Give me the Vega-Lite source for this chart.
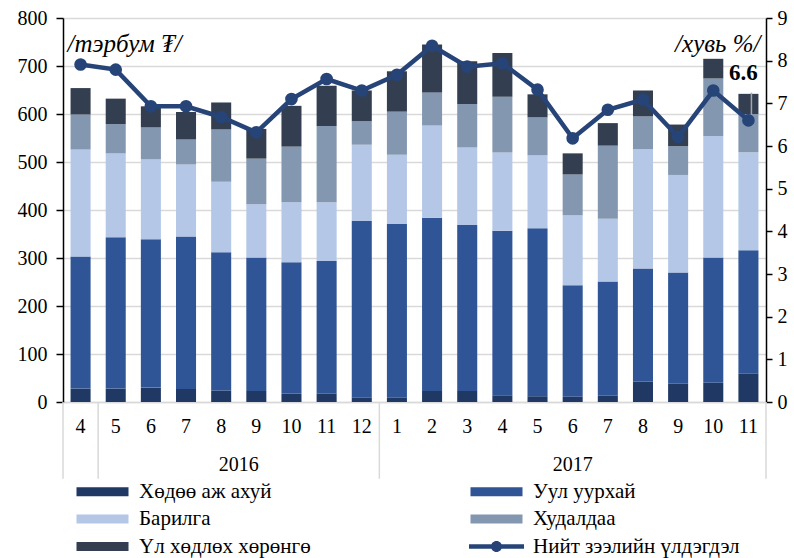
{
  "$schema": "https://vega.github.io/schema/vega-lite/v6.json",
  "width": 703,
  "height": 384,
  "autosize": {"type": "none"},
  "padding": {"left": 63, "top": 18, "right": 28, "bottom": 156},
  "background": "white",
  "config": {
    "font": "Liberation Serif",
    "view": {"stroke": null},
    "axis": {"labelColor": "#000000", "titleColor": "#000000", "labelFontSize": 20}
  },
  "datasets": {
    "d": [
      {"m": "2016-4", "Хөдөө аж ахуй": 28, "Уул уурхай": 275, "Барилга": 223, "Худалдаа": 73, "Үл хөдлөх хөрөнгө": 55, "loan": 7.91},
      {"m": "2016-5", "Хөдөө аж ахуй": 28, "Уул уурхай": 315, "Барилга": 175, "Худалдаа": 61, "Үл хөдлөх хөрөнгө": 53, "loan": 7.79},
      {"m": "2016-6", "Хөдөө аж ахуй": 30, "Уул уурхай": 309, "Барилга": 167, "Худалдаа": 66, "Үл хөдлөх хөрөнгө": 44, "loan": 6.93},
      {"m": "2016-7", "Хөдөө аж ахуй": 27, "Уул уурхай": 318, "Барилга": 150, "Худалдаа": 52, "Үл хөдлөх хөрөнгө": 57, "loan": 6.93},
      {"m": "2016-8", "Хөдөө аж ахуй": 24, "Уул уурхай": 288, "Барилга": 147, "Худалдаа": 109, "Үл хөдлөх хөрөнгө": 56, "loan": 6.68},
      {"m": "2016-9", "Хөдөө аж ахуй": 23, "Уул уурхай": 278, "Барилга": 111, "Худалдаа": 95, "Үл хөдлөх хөрөнгө": 62, "loan": 6.32},
      {"m": "2016-10", "Хөдөө аж ахуй": 17, "Уул уурхай": 274, "Барилга": 125, "Худалдаа": 116, "Үл хөдлөх хөрөнгө": 85, "loan": 7.10},
      {"m": "2016-11", "Хөдөө аж ахуй": 17, "Уул уурхай": 277, "Барилга": 122, "Худалдаа": 159, "Үл хөдлөх хөрөнгө": 84, "loan": 7.57},
      {"m": "2016-12", "Хөдөө аж ахуй": 9, "Уул уурхай": 368, "Барилга": 159, "Худалдаа": 49, "Үл хөдлөх хөрөнгө": 64, "loan": 7.30},
      {"m": "2017-1", "Хөдөө аж ахуй": 9, "Уул уурхай": 362, "Барилга": 144, "Худалдаа": 90, "Үл хөдлөх хөрөнгө": 84, "loan": 7.67},
      {"m": "2017-2", "Хөдөө аж ахуй": 23, "Уул уурхай": 361, "Барилга": 192, "Худалдаа": 69, "Үл хөдлөх хөрөнгө": 100, "loan": 8.35},
      {"m": "2017-3", "Хөдөө аж ахуй": 23, "Уул уурхай": 346, "Барилга": 161, "Худалдаа": 91, "Үл хөдлөх хөрөнгө": 89, "loan": 7.86},
      {"m": "2017-4", "Хөдөө аж ахуй": 14, "Уул уурхай": 343, "Барилга": 163, "Худалдаа": 116, "Үл хөдлөх хөрөнгө": 91, "loan": 7.94},
      {"m": "2017-5", "Хөдөө аж ахуй": 12, "Уул уурхай": 350, "Барилга": 152, "Худалдаа": 79, "Үл хөдлөх хөрөнгө": 48, "loan": 7.32},
      {"m": "2017-6", "Хөдөө аж ахуй": 11, "Уул уурхай": 232, "Барилга": 146, "Худалдаа": 85, "Үл хөдлөх хөрөнгө": 44, "loan": 6.18},
      {"m": "2017-7", "Хөдөө аж ахуй": 13, "Уул уурхай": 238, "Барилга": 131, "Худалдаа": 152, "Үл хөдлөх хөрөнгө": 47, "loan": 6.85},
      {"m": "2017-8", "Хөдөө аж ахуй": 42, "Уул уурхай": 236, "Барилга": 249, "Худалдаа": 68, "Үл хөдлөх хөрөнгө": 54, "loan": 7.09},
      {"m": "2017-9", "Хөдөө аж ахуй": 38, "Уул уурхай": 232, "Барилга": 203, "Худалдаа": 60, "Үл хөдлөх хөрөнгө": 45, "loan": 6.21},
      {"m": "2017-10", "Хөдөө аж ахуй": 40, "Уул уурхай": 261, "Барилга": 253, "Худалдаа": 120, "Үл хөдлөх хөрөнгө": 41, "loan": 7.30},
      {"m": "2017-11", "Хөдөө аж ахуй": 59, "Уул уурхай": 257, "Барилга": 204, "Худалдаа": 80, "Үл хөдлөх хөрөнгө": 42, "loan": 6.60}
    ]
  },
  "layer": [
    {
      "layer": [
        {
          "data": {"name": "d"},
          "transform": [
            {"fold": ["Хөдөө аж ахуй", "Уул уурхай", "Барилга", "Худалдаа", "Үл хөдлөх хөрөнгө"], "as": ["sector", "value"]},
            {"lookup": "sector", "from": {"data": {"values": [
              {"sector": "Хөдөө аж ахуй", "o": 1},
              {"sector": "Уул уурхай", "o": 2},
              {"sector": "Барилга", "o": 3},
              {"sector": "Худалдаа", "o": 4},
              {"sector": "Үл хөдлөх хөрөнгө", "o": 5}
            ]}, "key": "sector", "fields": ["o"]}}
          ],
          "mark": {"type": "bar", "width": {"band": 0.57}},
          "encoding": {
            "x": {
              "field": "m", "type": "ordinal", "title": null,
              "scale": {"domain": ["2016-4","2016-5","2016-6","2016-7","2016-8","2016-9","2016-10","2016-11","2016-12","2017-1","2017-2","2017-3","2017-4","2017-5","2017-6","2017-7","2017-8","2017-9","2017-10","2017-11"], "paddingInner": 0, "paddingOuter": 0},
              "axis": {"labelExpr": "split(datum.label, '-')[1]", "labelAngle": 0, "ticks": false, "domainColor": "#d9d9d9", "domainWidth": 1.5, "labelPadding": 14, "labelFontSize": 20, "grid": false}
            },
            "y": {
              "field": "value", "type": "quantitative", "stack": "zero",
              "scale": {"domain": [0, 800], "nice": false},
              "axis": {"title": "/тэрбум ₮/", "titleAngle": 0, "titleX": 4, "titleY": 25, "titleAlign": "left", "titleBaseline": "middle", "titleFontStyle": "italic", "titleFontWeight": "normal", "titleFontSize": 25, "values": [0,100,200,300,400,500,600,700,800], "grid": true, "gridColor": "#d9d9d9", "gridWidth": 1.5, "domainColor": "#000000", "domainWidth": 1.5, "tickColor": "#000000", "tickSize": 7, "tickWidth": 1.5, "labelPadding": 9, "labelFontSize": 20}
            },
            "order": {"field": "o", "type": "quantitative"},
            "color": {
              "field": "sector", "type": "nominal",
              "scale": {
                "domain": ["Хөдөө аж ахуй", "Уул уурхай", "Барилга", "Худалдаа", "Үл хөдлөх хөрөнгө", "Нийт зээлийн үлдэгдэл"],
                "range": ["#203864", "#2f5597", "#b4c7e7", "#8497b0", "#333f50", "#264478"]
              },
              "legend": {
                "orient": "none", "legendX": 29, "legendY": 463, "columns": 2, "direction": "horizontal", "title": null,
                "padding": 0, "symbolSize": 100, "labelFontSize": 21, "labelOffset": 26,
                "rowPadding": 5.5, "columnPadding": 158, "labelLimit": 400, "labelColor": "#000000",
                "symbolStrokeWidth": 0, "symbolOpacity": 1,
                "encode": {
                  "symbols": {
                    "update": {
                      "shape": {"signal": "datum.label === 'Нийт зээлийн үлдэгдэл' ? 'M-5.5,-0.45H5.5V0.45H-5.5Z M1.1,0A1.1,1.1,0,1,1,-1.1,0A1.1,1.1,0,1,1,1.1,0Z' : 'M-5.2,-0.9H5.2V0.9H-5.2Z'"},
                      "fill": {"scale": "color", "field": "value"},
                      "stroke": {"value": "transparent"},
                      "strokeWidth": {"value": 0}
                    }
                  }
                }
              }
            }
          }
        },
        {
          "data": {"values": [{"m": "2016-4"}, {"m": "2016-12"}, {"m": "2017-11"}]},
          "mark": {"type": "rule", "color": "#d9d9d9", "strokeWidth": 1.5},
          "encoding": {
            "x": {"field": "m", "type": "ordinal", "bandPosition": 1, "title": null},
            "y": {"datum": 0},
            "y2": {"datum": -160}
          }
        },
        {
          "data": {"values": [{"m": "2016-4"}]},
          "mark": {"type": "rule", "color": "#d9d9d9", "strokeWidth": 1.5},
          "encoding": {
            "x": {"field": "m", "type": "ordinal", "bandPosition": 0, "title": null},
            "y": {"datum": 0},
            "y2": {"datum": -160}
          }
        },
        {
          "data": {"values": [{"m": "2016-8", "year": "2016"}]},
          "mark": {"type": "text", "fontSize": 20, "baseline": "middle", "color": "#000000"},
          "encoding": {
            "x": {"field": "m", "type": "ordinal", "bandPosition": 1, "title": null},
            "y": {"datum": -131},
            "text": {"field": "year"}
          }
        },
        {
          "data": {"values": [{"m": "2017-6", "year": "2017"}]},
          "mark": {"type": "text", "fontSize": 20, "baseline": "middle", "color": "#000000"},
          "encoding": {
            "x": {"field": "m", "type": "ordinal", "bandPosition": 0.5, "title": null},
            "y": {"datum": -131},
            "text": {"field": "year"}
          }
        }
      ]
    },
    {
      "data": {"name": "d"},
      "layer": [
        {
          "transform": [{"filter": "datum.m === '2017-11'"}],
          "mark": {"type": "rule", "color": "#a6a6a6", "strokeWidth": 1.5, "xOffset": 3},
          "encoding": {
            "x": {"field": "m", "type": "ordinal", "title": null},
            "y": {"datum": 6.7},
            "y2": {"datum": 7.25}
          }
        },
        {
          "mark": {"type": "line", "strokeWidth": 4.5, "point": {"filled": true, "size": 160}},
          "encoding": {
            "x": {"field": "m", "type": "ordinal", "title": null},
            "y": {
              "field": "loan", "type": "quantitative",
              "scale": {"domain": [0, 9], "nice": false},
              "axis": {"orient": "right", "title": "/хувь %/", "titleAngle": 0, "titleX": -6, "titleY": 25, "titleAlign": "right", "titleBaseline": "middle", "titleFontStyle": "italic", "titleFontWeight": "normal", "titleFontSize": 25, "values": [0,1,2,3,4,5,6,7,8,9], "grid": false, "domainColor": "#000000", "domainWidth": 1.5, "tickColor": "#000000", "tickSize": 6, "tickWidth": 1.5, "labelPadding": 5, "labelFontSize": 20}
            },
            "color": {"datum": "Нийт зээлийн үлдэгдэл"}
          }
        },
        {
          "transform": [{"filter": "datum.m === '2017-11'"}],
          "mark": {"type": "text", "fontWeight": "bold", "fontSize": 23, "dx": -5, "dy": -47, "color": "#000000"},
          "encoding": {
            "x": {"field": "m", "type": "ordinal", "title": null},
            "y": {"field": "loan", "type": "quantitative"},
            "text": {"field": "loan", "type": "quantitative", "format": ".1f"}
          }
        }
      ]
    }
  ],
  "resolve": {"scale": {"y": "independent"}}
}
